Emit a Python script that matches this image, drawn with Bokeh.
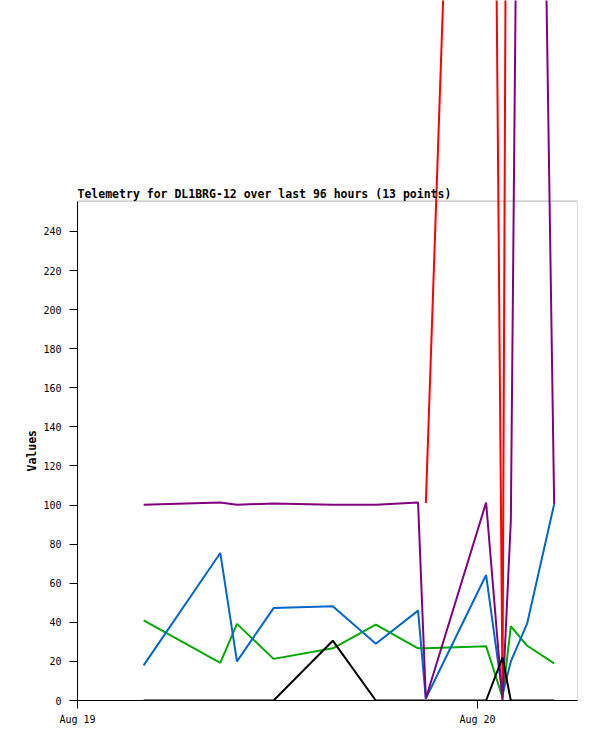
import numpy as np
import pandas as pd
from bokeh.plotting import figure
from bokeh.models import Range1d, FixedTicker, DatetimeTickFormatter, BoxAnnotation, Label, Title
from bokeh.embed import file_html
from bokeh.resources import INLINE

TITLE = "Telemetry for DL1BRG-12 over last 96 hours (13 points)"
Y_LABEL = "Values"

times = pd.to_datetime([
    "2024-08-19 03:58", "2024-08-19 08:34", "2024-08-19 09:34", "2024-08-19 11:46",
    "2024-08-19 15:19", "2024-08-19 17:54", "2024-08-19 20:26", "2024-08-19 20:54",
    "2024-08-20 00:31", "2024-08-20 01:30", "2024-08-20 02:00", "2024-08-20 02:59",
    "2024-08-20 04:36",
])

red = [np.nan, np.nan, np.nan, np.nan, np.nan, np.nan, np.nan, 101, 1000, 5, 1000, 1000, 1000]
green = [41, 19.2, 39.2, 21.3, 26.7, 38.8, 26.7, 26.7, 27.8, 1.5, 38, 28, 19]
blue = [18, 75.5, 20, 47.3, 48.2, 29, 46, 1, 64.2, 3, 20, 39.5, 100.5]
purple = [100.2, 101.3, 100.2, 100.8, 100.2, 100.2, 101.3, 1, 101.3, 0, 92, 1010, 100.5]
black = [0, 0, 0, 0, 30.6, 0, 0, 0, 0, 22, 0, 0, 0]

series = [
    (red, "#FF0000"),
    (green, "#00AA00"),
    (blue, "#0066CC"),
    (purple, "#800080"),
    (black, "#000000"),
]

X_START = pd.Timestamp("2024-08-19 00:00")
X_END = pd.Timestamp("2024-08-20 06:00")
X_TICKS = [pd.Timestamp("2024-08-19"), pd.Timestamp("2024-08-20")]
Y_TICKS = list(range(0, 241, 20))
Y_BOX_TOP = 255.5
Y_VIEW_TOP = 358.2


def ms(t):
    return t.value / 1e6


p = figure(
    width=589, height=733,
    x_axis_type="datetime",
    x_range=Range1d(ms(X_START), ms(X_END)),
    y_range=Range1d(0, Y_VIEW_TOP),
    output_backend="svg", toolbar_location=None,
    min_border_left=77, min_border_right=12,
    min_border_top=0, min_border_bottom=33,
    background_fill_color="white", border_fill_color="white",
)
p.outline_line_color = None
p.xgrid.visible = False
p.ygrid.visible = False

box = BoxAnnotation(left=ms(X_START), right=ms(X_END), bottom=0, top=Y_BOX_TOP,
                    fill_color=None, fill_alpha=0, line_color="#333333",
                    line_width=1.2, level="underlay")
p.add_layout(box)

xs = np.array([ms(t) for t in times])
for vals, color in series:
    p.line(xs, np.array(vals, dtype=float), line_color=color, line_width=2)

fmt = "%b %d"
p.xaxis.ticker = FixedTicker(ticks=[ms(t) for t in X_TICKS])
p.xaxis.formatter = DatetimeTickFormatter(
    milliseconds=fmt, seconds=fmt, minsec=fmt, minutes=fmt, hourmin=fmt,
    hours=fmt, days=fmt, months=fmt, years=fmt)
p.yaxis.ticker = FixedTicker(ticks=Y_TICKS)
p.yaxis.bounds = (0, Y_BOX_TOP)

for ax in (p.xaxis[0], p.yaxis[0]):
    ax.major_tick_out = 8
    ax.major_tick_in = 0
    ax.minor_tick_out = 0
    ax.minor_tick_in = 0
    ax.axis_line_color = "black"
    ax.major_tick_line_color = "black"
    ax.major_label_text_font = "DejaVu Sans Mono"
    ax.major_label_text_font_size = "10px"
    ax.major_label_text_color = "black"
p.xaxis.major_label_standoff = 5
p.yaxis.major_label_standoff = 8

title = Label(x=ms(X_START), y=Y_BOX_TOP, text=TITLE,
              text_font="DejaVu Sans Mono", text_font_style="bold",
              text_font_size="11.5px", text_color="black",
              text_baseline="alphabetic", text_align="left", y_offset=7)
p.add_layout(title)

ylab = Title(text=Y_LABEL, align="left", offset=229, standoff=4,
             text_font="DejaVu Sans Mono", text_font_style="bold",
             text_font_size="11.5px", text_color="black")
p.add_layout(ylab, "left")

open("out.html", "w").write(file_html(p, INLINE))
